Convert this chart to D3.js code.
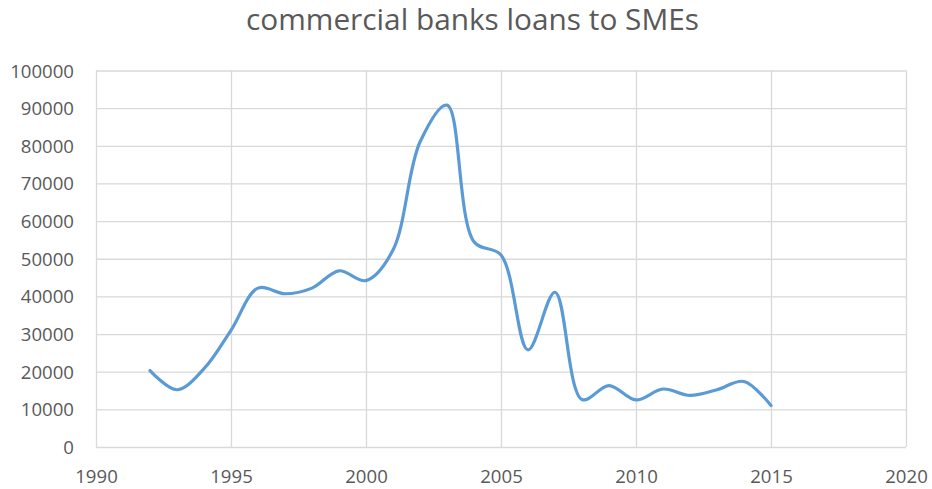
<!DOCTYPE html>
<html>
<head>
<meta charset="utf-8">
<script src="https://cdn.jsdelivr.net/npm/d3@7/dist/d3.min.js"></script>
<style>
  html, body { margin: 0; padding: 0; background: #fff; }
  svg { display: block; font-family: "Open Sans", "Liberation Sans", sans-serif; }
</style>
</head>
<body>
<svg id="chart" width="932" height="489"></svg>
<script>
// Commercial bank lending to SMEs, by year
const years = [1992, 1993, 1994, 1995, 1996, 1997, 1998, 1999, 2000, 2001, 2002, 2003,
               2004, 2005, 2006, 2007, 2008, 2009, 2010, 2011, 2012, 2013, 2014, 2015];
const loans = [20300, 15200, 20800, 31000, 42200, 40700, 42200, 46800, 44200, 52300, 81000, 90800,
               54500, 51000, 25800, 41100, 12600, 16300, 12500, 15400, 13700, 15200, 17400, 11000];
const xTicks = [1990, 1995, 2000, 2005, 2010, 2015, 2020];
const yTicks = [0, 10000, 20000, 30000, 40000, 50000, 60000, 70000, 80000, 90000, 100000];
const title = "commercial banks loans to SMEs";

const svg = d3.select("#chart");
const margin = { left: 96, right: 26, top: 70.5, bottom: 42 };
const W = 932, H = 489;

const x = d3.scaleLinear().domain([1990, 2020]).range([margin.left, W - margin.right]);
const y = d3.scaleLinear().domain([0, 100000]).range([H - margin.bottom, margin.top]);

const textColor = "#595959";
const gridColor = "#d9d9d9";

// Gridlines
svg.append("g")
  .attr("transform", `translate(0,${H - margin.bottom})`)
  .call(d3.axisBottom(x).tickValues(xTicks).tickSize(-(H - margin.bottom - margin.top)).tickFormat(""))
  .call(g => g.select(".domain").remove())
  .call(g => g.selectAll("line").attr("stroke", gridColor).attr("stroke-width", 1.3));

svg.append("g")
  .attr("transform", `translate(${margin.left},0)`)
  .call(d3.axisLeft(y).tickValues(yTicks).tickSize(-(W - margin.left - margin.right)).tickFormat(""))
  .call(g => g.select(".domain").remove())
  .call(g => g.selectAll("line").attr("stroke", gridColor).attr("stroke-width", 1.3));

// Tick labels
svg.append("g")
  .attr("transform", `translate(${margin.left - 22},0)`)
  .call(d3.axisLeft(y).tickValues(yTicks).tickSize(0).tickPadding(0).tickFormat(d3.format("d")))
  .call(g => g.select(".domain").remove())
  .call(g => g.selectAll("text")
    .attr("fill", textColor).attr("font-size", 18.6)
    .attr("font-family", "'Open Sans', sans-serif")
    .attr("dy", "0.35em"));

svg.append("g")
  .attr("transform", `translate(0,${H - margin.bottom + 36})`)
  .call(d3.axisBottom(x).tickValues(xTicks).tickSize(0).tickPadding(0).tickFormat(d3.format("d")))
  .call(g => g.select(".domain").remove())
  .call(g => g.selectAll("text")
    .attr("fill", textColor).attr("font-size", 18.6)
    .attr("font-family", "'Open Sans', sans-serif")
    .attr("dy", "0"));

// Series line (smoothed)
const pts = years.map((yr, i) => [yr, loans[i]]);
const line = d3.line()
  .x(d => x(d[0]))
  .y(d => y(d[1]))
  .curve(d3.curveCatmullRom.alpha(0.5));

svg.append("path")
  .datum(pts)
  .attr("fill", "none")
  .attr("stroke", "#5b9bd5")
  .attr("stroke-width", 3.2)
  .attr("stroke-linejoin", "round")
  .attr("stroke-linecap", "round")
  .attr("d", line);

// Title
const t = svg.append("text")
  .attr("x", 472.5)
  .attr("y", 30)
  .attr("text-anchor", "middle")
  .attr("fill", textColor)
  .attr("font-size", 26)
  .attr("font-family", "'Open Sans', sans-serif")
  .text(title);
const tw = t.node().getComputedTextLength();
t.attr("font-size", 26 * 453 / tw);
</script>
</body>
</html>
